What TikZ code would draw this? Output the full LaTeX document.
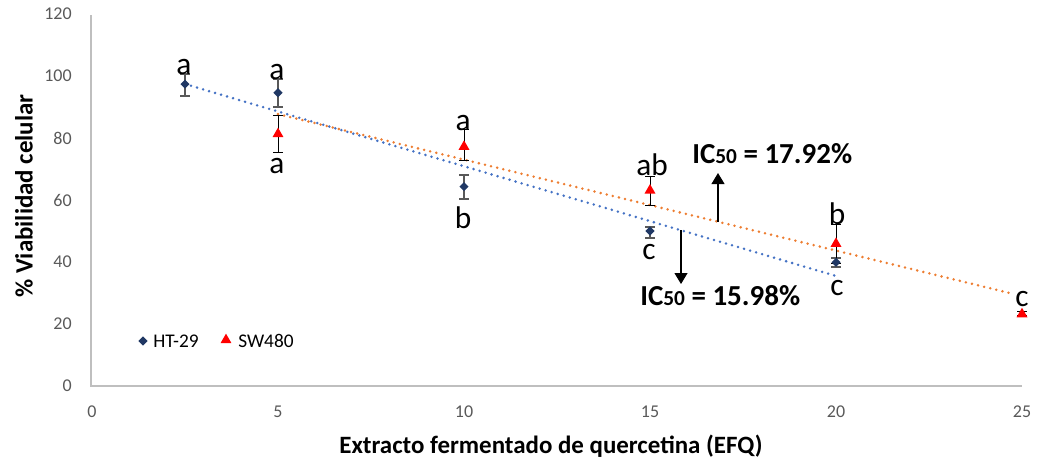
\documentclass[tikz,border=0pt]{standalone}
\usepackage{fontspec}
\setmainfont{Carlito}
\usetikzlibrary{shapes.geometric,arrows.meta}
\definecolor{axisgray}{HTML}{BFBFBF}
\definecolor{ticktext}{HTML}{595959}
\definecolor{navy}{HTML}{203864}
\definecolor{errgray}{HTML}{595959}
\definecolor{tblue}{HTML}{4472C4}
\definecolor{torange}{HTML}{ED7D31}
\definecolor{mred}{HTML}{FF0000}
\tikzset{
  axisline/.style={draw=axisgray, line width=1.3pt},
  ticky/.style={anchor=east, inner sep=0pt, text=ticktext, font=\fontsize{13.5}{15}\selectfont},
  tickx/.style={anchor=center, inner sep=0pt, text=ticktext, font=\fontsize{13.5}{15}\selectfont},
  axtitle/.style={inner sep=0pt, font=\bfseries\fontsize{18.7}{21}\selectfont},
  sig/.style={anchor=base, inner sep=0pt, font=\fontsize{23.5}{26}\selectfont},
  iclabel/.style={anchor=base west, inner sep=0pt, font=\bfseries\fontsize{21.75}{24}\selectfont},
  legtext/.style={anchor=west, inner sep=0pt, font=\fontsize{14.5}{16}\selectfont},
  htmark/.style={diamond, fill=navy, inner sep=0pt, minimum size=7pt},
  swmark/.style={regular polygon, regular polygon sides=3, fill=mred, inner sep=0pt, minimum size=9.5pt},
  hterr/.style={draw=errgray, line width=1.4pt},
  swerr/.style={draw=black, line width=0.75pt},
  trendblue/.style={draw=tblue, line width=2.1pt, line cap=round, dash pattern=on 0pt off 4.7pt},
  trendorange/.style={draw=torange, line width=2.1pt, line cap=round, dash pattern=on 0pt off 4.7pt},
  icarrow/.style={draw=black, line width=0.8pt, -{Triangle[width=9.75pt,length=8.25pt]}}
}
\newcommand{\hterrbar}[3]{% x, low, high
  \draw[hterr] (92+37.2*#1, 76+3.1*#2) -- (92+37.2*#1, 76+3.1*#3);
  \draw[hterr] (92+37.2*#1-5, 76+3.1*#2) -- (92+37.2*#1+5, 76+3.1*#2);
  \draw[hterr] (92+37.2*#1-5, 76+3.1*#3) -- (92+37.2*#1+5, 76+3.1*#3);
}
\newcommand{\swerrbar}[3]{%
  \draw[swerr] (92+37.2*#1, 76+3.1*#2) -- (92+37.2*#1, 76+3.1*#3);
  \draw[swerr] (92+37.2*#1-5, 76+3.1*#2) -- (92+37.2*#1+5, 76+3.1*#2);
  \draw[swerr] (92+37.2*#1-5, 76+3.1*#3) -- (92+37.2*#1+5, 76+3.1*#3);
}
\begin{document}
\begin{tikzpicture}[x=0.75pt, y=0.75pt]
\useasboundingbox (0,0) rectangle (1038,462);
% axes
\coordinate (yaxB) at (91,76);
\coordinate (yaxT) at (91,447);
\coordinate (xaxR) at (1022,76);
\draw[axisline] (yaxT) -- (yaxB) -- (xaxR);
% y ticks
\foreach \v [count=\i] in {0,20,40,60,80,100,120}
  \node[ticky] (yt\i) at (72, 76+3.1*\v) {\v};
% x ticks
\foreach \v [count=\i] in {0,5,10,15,20,25}
  \node[tickx] (xt\i) at (92+37.2*\v, 50) {\v};
% axis titles
\node[axtitle, rotate=90] (ytitle) at (24,266) {\% Viabilidad celular};
\node[axtitle, anchor=base] (xtitle) at (551,9) {Extracto fermentado de quercetina (EFQ)};
% trend lines
\coordinate (b0) at (92+37.2*2.5, 76+3.1*97.4);
\coordinate (b1) at (92+37.2*20, 76+3.1*35.5);
\coordinate (o0) at (92+37.2*5, 76+3.1*87.7);
\coordinate (o1) at (92+37.2*24.8, 76+3.1*29.6);
\draw[trendblue] (b0) -- (b1);
\draw[trendorange] (o0) -- (o1);
% error bars HT-29
\hterrbar{2.5}{93.5}{100.6}
\hterrbar{5}{90.0}{99.0}
\hterrbar{10}{60.3}{68.1}
\hterrbar{15}{47.8}{51.4}
\hterrbar{20}{38.5}{41.4}
% error bars SW480
\swerrbar{5}{75.4}{87.4}
\swerrbar{10}{72.6}{82.6}
\swerrbar{15}{58.3}{67.7}
\swerrbar{20}{39.6}{52.2}
\swerrbar{25}{22.6}{24.0}
% markers HT-29
\node[htmark] (h1) at (92+37.2*2.5, 76+3.1*97.4) {};
\node[htmark] (h2) at (92+37.2*5, 76+3.1*94.6) {};
\node[htmark] (h3) at (92+37.2*10, 76+3.1*64.3) {};
\node[htmark] (h4) at (92+37.2*15, 76+3.1*50.0) {};
\node[htmark] (h5) at (92+37.2*20, 76+3.1*39.9) {};
% markers SW480
\node[swmark] (s1) at (92+37.2*5, 76+3.1*81.3) {};
\node[swmark] (s2) at (92+37.2*10, 76+3.1*77.2) {};
\node[swmark] (s3) at (92+37.2*15, 76+3.1*63.1) {};
\node[swmark] (s4) at (92+37.2*20, 76+3.1*45.9) {};
\node[swmark] (s5) at (92+37.2*25, 76+3.1*23.2) {};
% significance letters
\node[sig] (l1) at (184,388) {a};
\node[sig] (l2) at (277,383) {a};
\node[sig] (l3) at (277,289) {a};
\node[sig] (l4) at (463,332) {a};
\node[sig] (l5) at (463,234) {b};
\node[sig] (l6) at (652,287) {ab};
\node[sig] (l7) at (649,203) {c};
\node[sig] (l8) at (837,238) {b};
\node[sig] (l9) at (837,167) {c};
\node[sig] (l10) at (1022,156) {c};
% IC50 arrows
\coordinate (upS) at (718, 76+3.1*53.0);
\coordinate (upE) at (718, 76+3.1*68.7);
\coordinate (dnS) at (681, 76+3.1*50.25);
\coordinate (dnE) at (681, 76+3.1*32.9);
\draw[icarrow] (upS) -- (upE);
\draw[icarrow] (dnS) -- (dnE);
\node[iclabel] (ic1) at (692,299) {IC{\fontsize{16}{18}\selectfont 50} = 17.92\%};
\node[iclabel] (ic2) at (640,157) {IC{\fontsize{16}{18}\selectfont 50} = 15.98\%};
% legend
\node[htmark] (lg1) at (143,121) {};
\node[legtext] (lgt1) at (153,121) {HT-29};
\node[swmark] (lg2) at (226,122) {};
\node[legtext] (lgt2) at (238,121) {SW480};
\end{tikzpicture}
\end{document}
